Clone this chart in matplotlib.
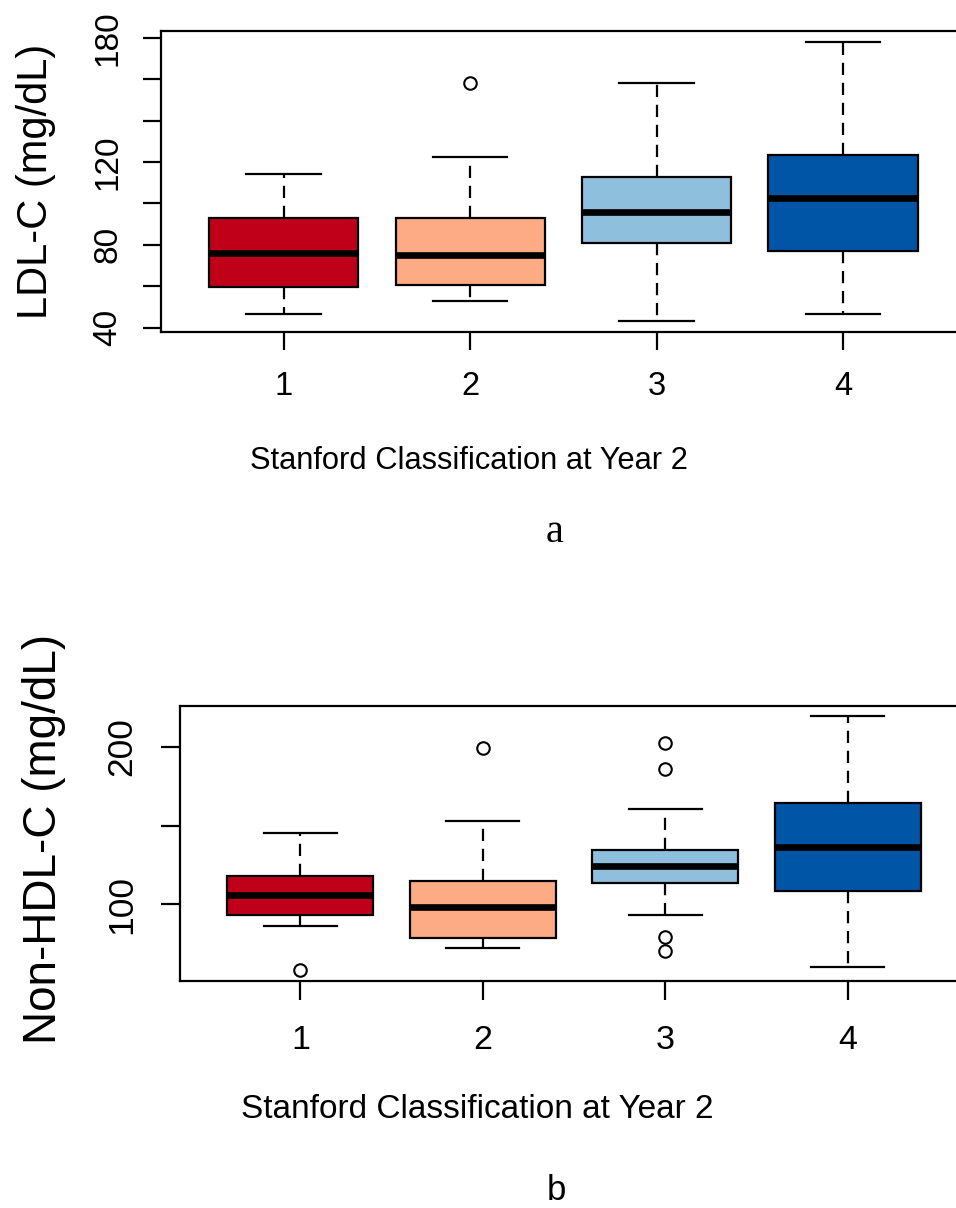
import matplotlib
matplotlib.use("Agg")
import matplotlib.pyplot as plt

plt.rcParams['font.family'] = ['Liberation Sans', 'DejaVu Sans']

# ---- data ----
groups = ["1", "2", "3", "4"]
colors = ["#C00018", "#FCAB84", "#8EBFDD", "#0055A6"]
xlabel = "Stanford Classification at Year 2"

# Panel a: LDL-C
ldl_whislo = [46.8, 52.8, 43.4, 46.8]
ldl_q1     = [59.6, 60.4, 81.1, 76.8]
ldl_med    = [76.1, 75.0, 96.0, 102.5]
ldl_q3     = [93.0, 92.8, 112.9, 123.4]
ldl_whishi = [114.2, 122.4, 158.2, 177.9]
ldl_fliers = [[], [158.3], [], []]
ldl_yticks = [40, 60, 80, 100, 120, 140, 160, 180]
ldl_ylabels = ["40", "", "80", "", "120", "", "", "180"]

# Panel b: Non-HDL-C
nhdl_whislo = [86.1, 72.6, 93.6, 60.4]
nhdl_q1     = [93.4, 78.6, 113.8, 108.8]
nhdl_med    = [105.8, 98.3, 124.3, 136.5]
nhdl_q3     = [117.8, 114.8, 134.4, 164.6]
nhdl_whishi = [145.3, 153.2, 160.5, 219.7]
nhdl_fliers = [[58.2], [199.4], [202.6, 185.8, 79.5, 70.2], []]
nhdl_yticks = [100, 150, 200]
nhdl_ylabels = ["100", "", "200"]

W, H = 956, 1208
fig = plt.figure(figsize=(W / 100, H / 100), dpi=100)


def px_axes(left, top, right, bottom):
    return fig.add_axes([left / W, 1 - bottom / H, (right - left) / W, (bottom - top) / H])


def draw_panel(ax, lo, q1, med, q3, hi, fl, yticks, ylabels, yfs, xfs, ticklen, ypad, xpad):
    stats = []
    for i in range(len(groups)):
        stats.append(dict(whislo=lo[i], q1=q1[i], med=med[i], q3=q3[i],
                          whishi=hi[i], fliers=fl[i], label=groups[i]))
    bp = ax.bxp(stats, positions=range(1, len(groups) + 1), widths=0.8,
                patch_artist=True, showfliers=True,
                boxprops=dict(edgecolor="black", linewidth=1.6),
                medianprops=dict(color="black", linewidth=4.8, solid_capstyle="butt"),
                whiskerprops=dict(color="black", linewidth=1.6, linestyle=(0, (5.5, 3.5))),
                capprops=dict(color="black", linewidth=1.6),
                capwidths=0.4,
                flierprops=dict(marker="o", markerfacecolor="white",
                                markeredgecolor="black", markersize=9,
                                markeredgewidth=1.5))
    for patch, c in zip(bp["boxes"], colors):
        patch.set_facecolor(c)
    # R-style limits: 4% padding
    allv = lo + hi + [v for f in fl for v in f]
    vmin, vmax = min(allv), max(allv)
    r = vmax - vmin
    ax.set_ylim(vmin - 0.04 * r, vmax + 0.04 * r)
    ax.set_xlim(0.5 - 0.16, len(groups) + 0.5 + 0.16)
    ax.set_yticks(yticks)
    ax.set_yticklabels(ylabels, rotation=90, va="center", ha="center", fontsize=yfs)
    ax.set_xticks(range(1, len(groups) + 1))
    ax.set_xticklabels(groups, va="center", fontsize=xfs)
    ax.tick_params(axis="both", length=ticklen, width=1.6)
    ax.tick_params(axis="y", pad=ypad)
    ax.tick_params(axis="x", pad=xpad)
    for s in ax.spines.values():
        s.set_linewidth(1.6)


ax1 = px_axes(160.7, 31, 966, 331.7)
draw_panel(ax1, ldl_whislo, ldl_q1, ldl_med, ldl_q3, ldl_whishi, ldl_fliers,
           ldl_yticks, ldl_ylabels, yfs=24, xfs=23.5, ticklen=13, ypad=25, xpad=26.5)
fig.text(36 / W, 1 - 181 / H, "LDL-C (mg/dL)", rotation=90, fontsize=30,
         ha="center", va="center")
fig.text(469 / W, 1 - 461 / H, xlabel, fontsize=22.2, ha="center", va="center")
fig.text(555 / W, 1 - 533 / H, "a", fontsize=29, ha="center", va="center",
         family=["Liberation Serif"])

ax2 = px_axes(180, 705.7, 968, 980.5)
draw_panel(ax2, nhdl_whislo, nhdl_q1, nhdl_med, nhdl_q3, nhdl_whishi, nhdl_fliers,
           nhdl_yticks, nhdl_ylabels, yfs=25.5, xfs=24.5, ticklen=14, ypad=28, xpad=29)
fig.text(44 / W, 1 - 839 / H, "Non-HDL-C (mg/dL)", rotation=90, fontsize=33,
         ha="center", va="center")
fig.text(477 / W, 1 - 1110 / H, xlabel, fontsize=24, ha="center", va="center")
fig.text(556 / W, 1 - 1191 / H, "b", fontsize=25, ha="center", va="center")

fig.savefig("out.png", dpi=100)
